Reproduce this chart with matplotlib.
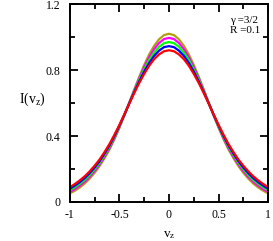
import matplotlib
matplotlib.use('Agg')
import matplotlib.pyplot as plt
import numpy as np

plt.rcParams['font.family'] = ['Liberation Serif', 'DejaVu Serif']
plt.rcParams['mathtext.fontset'] = 'custom'
plt.rcParams['mathtext.rm'] = 'Liberation Serif'
plt.rcParams['mathtext.it'] = 'Liberation Serif:italic'

# |v_z| from 0 to 1 in steps of 0.05, profiles are symmetric around 0
vz_half = [0.0, 0.05, 0.1, 0.15, 0.2, 0.25, 0.3, 0.35, 0.4, 0.45, 0.5,
           0.55, 0.6, 0.65, 0.7, 0.75, 0.8, 0.85, 0.9, 0.95, 1.0]

# curves
red_half = [0.920, 0.914, 0.895, 0.866, 0.826, 0.777, 0.722, 0.661, 0.597, 0.532, 0.468,
            0.408, 0.352, 0.303, 0.258, 0.220, 0.186, 0.156, 0.131, 0.109, 0.090]
blue_half = [0.945, 0.939, 0.918, 0.886, 0.843, 0.791, 0.731, 0.667, 0.599, 0.530, 0.464,
             0.401, 0.344, 0.294, 0.248, 0.209, 0.175, 0.145, 0.120, 0.099, 0.080]
green_half = [0.970, 0.963, 0.941, 0.906, 0.861, 0.804, 0.741, 0.672, 0.601, 0.529, 0.459,
              0.395, 0.336, 0.285, 0.238, 0.199, 0.164, 0.134, 0.110, 0.089, 0.071]
magenta_half = [0.995, 0.988, 0.964, 0.927, 0.878, 0.818, 0.750, 0.678, 0.602, 0.527, 0.455,
                0.388, 0.327, 0.275, 0.228, 0.188, 0.153, 0.123, 0.099, 0.078, 0.061]
olive_half = [1.020, 1.012, 0.987, 0.947, 0.895, 0.831, 0.759, 0.683, 0.604, 0.525, 0.450,
              0.381, 0.319, 0.266, 0.218, 0.177, 0.142, 0.112, 0.088, 0.068, 0.052]

xticks = [-1, -0.5, 0, 0.5, 1]
xticklabels = ['-1', '-0.5', '0', '0.5', '1']
yticks = [0, 0.4, 0.8, 1.2]
yticklabels = ['0', '0.4', '0.8', '1.2']

vz = [-v for v in vz_half[:0:-1]] + vz_half


def full(half):
    return half[:0:-1] + half


curves = [(olive_half, '#b0a010'), (magenta_half, '#ff00ff'), (green_half, '#00ff00'),
          (blue_half, '#0000ff'), (red_half, '#ff0000')]

fig = plt.figure(figsize=(2.73, 2.41), dpi=100)
ax = fig.add_axes([0.256, 0.162, 0.726, 0.821])

for half, c in curves:
    ax.plot(vz, full(half), color=c, lw=1.6, solid_capstyle='round', solid_joinstyle='round')

ax.set_xlim(-1, 1)
ax.set_ylim(0, 1.2)
ax.set_xticks(xticks)
ax.set_xticklabels(xticklabels)
ax.set_yticks(yticks)
ax.set_yticklabels(yticklabels)
ax.set_xticks(np.arange(-1, 1.01, 0.25), minor=True)
ax.set_yticks(np.arange(0, 1.21, 0.2), minor=True)

ax.tick_params(which='both', direction='in', top=True, right=True, width=1.3, labelsize=8.5)
ax.tick_params(which='major', length=6)
ax.tick_params(which='minor', length=3.5)
ax.tick_params(axis='y', pad=7)
ax.tick_params(axis='x', pad=5)
for s in ax.spines.values():
    s.set_linewidth(1.4)

ax.set_ylabel(r'I(v$_{\mathrm{z}}$)', fontsize=10, rotation=0, ha='center', va='center')
ax.yaxis.set_label_coords(-0.19, 0.52)
ax.set_xlabel(r'v$_{\mathrm{z}}$', fontsize=9.5, va='center')
ax.xaxis.set_label_coords(0.5, -0.165)

ax.text(0.808, 0.919, '\u03b3 =3/2', transform=ax.transAxes, fontsize=8, va='center')
ax.text(0.808, 0.869, 'R =0.1', transform=ax.transAxes, fontsize=8, va='center')

fig.savefig('out.png', dpi=100)
